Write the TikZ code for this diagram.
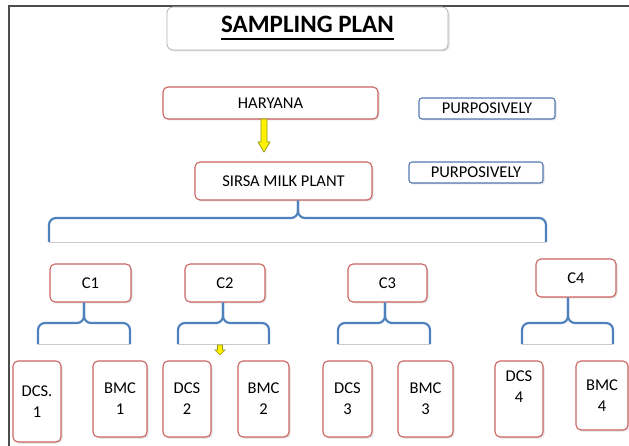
\documentclass[tikz,border=0pt]{standalone}
\usepackage{fontspec}
\setmainfont{Carlito}
\usetikzlibrary{calc,shadows}

\definecolor{boxred}{RGB}{204,100,98}
\definecolor{boxblue}{RGB}{84,120,180}
\definecolor{brblue}{RGB}{79,129,189}
\definecolor{yelline}{RGB}{150,150,20}

% thick underline for the title
\newcommand{\thickul}[1]{\setbox0\hbox{#1}\rlap{\rule[-7.5pt]{\wd0}{2.4pt}}\box0}

% yellow block arrow: tail, tip, half shaft, half head, head length
\newcommand{\blockarrow}[5]{%
  \filldraw[fill=yellow, draw=yelline, line width=.7pt]
    ($(#1)+(-#3,0)$) -- ($(#2)+(-#3,-#5)$) -- ($(#2)+(-#4,-#5)$) -- (#2)
    -- ($(#2)+(#4,-#5)$) -- ($(#2)+(#3,-#5)$) -- ($(#1)+(#3,0)$) -- cycle;}

\begin{document}
\begin{tikzpicture}
  [x=1pt, y=-1pt, font=\fontsize{16.5}{21}\selectfont,
   box/.style={rectangle, rounded corners=5pt, draw=boxred, line width=1.1pt,
     fill=white, align=center, inner sep=0pt,
     drop shadow={shadow xshift=1.5pt, shadow yshift=-1.5pt, opacity=.25}},
   purp/.style={box, draw=boxblue, rounded corners=3pt},
   titlebox/.style={box, draw=black!30, line width=.8pt, rounded corners=6pt,
     font=\fontsize{25}{28}\selectfont\bfseries},
   brace/.style={draw=brblue, line width=2.2pt, rounded corners=7pt},
   base/.style={draw=black!20, line width=.7pt}]
  \useasboundingbox (0,0) rectangle (629,446);
  \draw[line width=2pt, black!70] (8.5,446) -- (8.5,6.5) -- (629,6.5);

  \node [titlebox, minimum width=281, minimum height=43] (title) at (307.5,28.5) {\thickul{SAMPLING PLAN}};

  \node [box, minimum width=215, minimum height=32] (haryana) at (270.5,103) {HARYANA};
  \node [box, minimum width=177, minimum height=38] (sirsa) at (283.5,181) {SIRSA MILK PLANT};
  \node [purp, minimum width=136, minimum height=21] (p1) at (487,108.5) {PURPOSIVELY};
  \node [purp, minimum width=134, minimum height=21] (p2) at (476,172.5) {PURPOSIVELY};

  \node [box, minimum width=81, minimum height=38] (c1) at (90.5,283) {C1};
  \node [box, minimum width=80, minimum height=38] (c2) at (225,283) {C2};
  \node [box, minimum width=79, minimum height=38] (c3) at (387.5,283) {C3};
  \node [box, minimum width=80, minimum height=38] (c4) at (576,278) {C4};

  \node [box, minimum width=48, minimum height=81] (d1) at (37,401.5) {DCS.\\1};
  \node [box, minimum width=54, minimum height=76] (b1) at (120,399) {BMC\\1};
  \node [box, minimum width=48, minimum height=76] (d2) at (187,399) {DCS\\2};
  \node [box, minimum width=51, minimum height=76] (b2) at (263.5,399) {BMC\\2};
  \node [box, minimum width=49, minimum height=76] (d3) at (347.5,399) {DCS\\3};
  \node [box, minimum width=55, minimum height=76] (b3) at (425.5,399) {BMC\\3};
  \node [box, minimum width=48, minimum height=76, text depth=24pt] (d4) at (519,399) {DCS\\4};
  \node [box, minimum width=52, minimum height=69] (b4) at (602,395.5) {BMC\\4};

  % brace junctions
  \coordinate (j0) at (298,218);
  \coordinate (j0l) at (49,242);
  \coordinate (j0r) at (546,242);
  \coordinate (j1) at (84,323);
  \coordinate (j1l) at (38,344);
  \coordinate (j1r) at (130,344);
  \coordinate (j2) at (223,323);
  \coordinate (j2l) at (178,344);
  \coordinate (j2r) at (269,344);
  \coordinate (j3) at (385,323);
  \coordinate (j3l) at (338,344);
  \coordinate (j3r) at (430,344);
  \coordinate (j4) at (568,323);
  \coordinate (j4l) at (522,344);
  \coordinate (j4r) at (613,344);

  % plant to centres
  \draw[base] (j0l) -- (j0r);
  \draw[brace] (j0l) |- (j0) -- (j0 |- sirsa.south);
  \draw[brace] (j0r) |- (j0) -- (j0 |- sirsa.south);

  % centres to societies
  \draw[base] (j1l) -- (j1r);
  \draw[brace] (j1l) |- (j1) -- (j1 |- c1.south);
  \draw[brace] (j1r) |- (j1) -- (j1 |- c1.south);
  \draw[base] (j2l) -- (j2r);
  \draw[brace] (j2l) |- (j2) -- (j2 |- c2.south);
  \draw[brace] (j2r) |- (j2) -- (j2 |- c2.south);
  \draw[base] (j3l) -- (j3r);
  \draw[brace] (j3l) |- (j3) -- (j3 |- c3.south);
  \draw[brace] (j3r) |- (j3) -- (j3 |- c3.south);
  \draw[base] (j4l) -- (j4r);
  \draw[brace] (j4l) |- (j4) -- (j4 |- c4.south);
  \draw[brace] (j4r) |- (j4) -- (j4 |- c4.south);

  % yellow arrows
  \coordinate (a1) at (264,119);
  \coordinate (a2) at (264,152);
  \blockarrow{a1}{a2}{3}{6}{10}
  \coordinate (a3) at (220,345);
  \coordinate (a4) at (220,355);
  \blockarrow{a3}{a4}{2.5}{5}{5}
\end{tikzpicture}
\end{document}
